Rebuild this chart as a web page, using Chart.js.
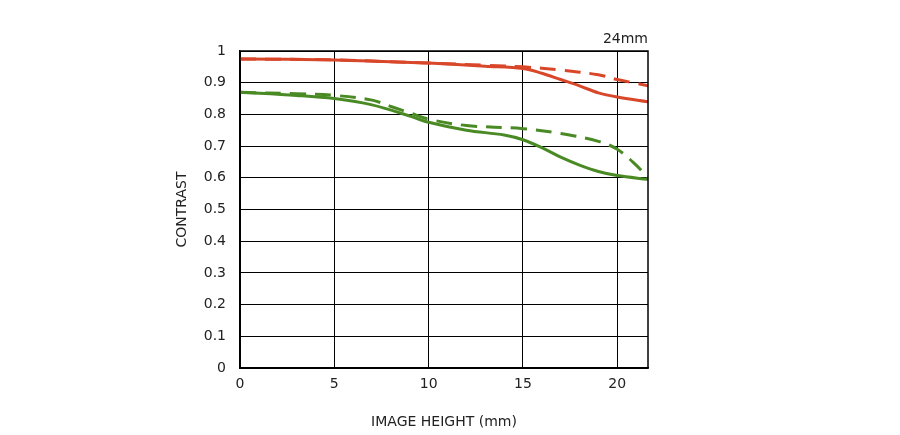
<!DOCTYPE html>
<html>
<head>
<meta charset="utf-8">
<script src="https://cdn.jsdelivr.net/npm/chart.js@4"></script>
<style>
html, body { margin: 0; padding: 0; background: #fff; }
#wrap { width: 900px; height: 435px; }
</style>
</head>
<body>
<div id="wrap"><canvas id="mtf"></canvas></div>
<script>
// Datos
const xMax = 21.63;
const redSolid = [[0,0.975],[5,0.972],[8,0.966],[10,0.962],[13,0.952],[15,0.945],[16,0.93],[17,0.91],[18,0.89],[19,0.868],[20,0.855],[21.63,0.84]];
const redDashed = [[0,0.975],[5,0.972],[8,0.966],[10,0.962],[13,0.955],[15,0.95],[17,0.94],[19,0.925],[20,0.91],[21,0.898],[21.63,0.89]];
const greenSolid = [[0,0.87],[3,0.86],[5,0.85],[7,0.83],[9,0.795],[10,0.775],[12,0.75],[14,0.735],[15,0.72],[16,0.695],[17,0.665],[18,0.64],[19,0.62],[20,0.607],[21.63,0.595]];
const greenDashed = [[0,0.87],[3,0.865],[5,0.86],[7,0.845],[8,0.825],[9,0.805],[10,0.785],[12,0.765],[15,0.755],[17,0.74],[19,0.715],[20,0.69],[21,0.64],[21.63,0.6]];

const red = '#d9472b';
const green = '#4a8a24';

function toPts(arr) {
    return arr.map(p => ({ x: p[0], y: p[1] }));
}

function ds(data, color, dashed) {
    return {
        data: toPts(data),
        borderColor: color,
        borderWidth: 3,
        borderDash: dashed ? [16, 9] : [],
        pointRadius: 0,
        tension: 0.35,
        fill: false
    };
}

// Marco y etiqueta de la focal
const framePlugin = {
    id: 'frame',
    afterDraw(chart) {
        const a = chart.chartArea;
        const ctx = chart.ctx;
        ctx.save();
        ctx.strokeStyle = '#000';
        ctx.lineWidth = 1.5;
        ctx.strokeRect(a.left, a.top, a.right - a.left, a.bottom - a.top);
        ctx.fillStyle = '#222';
        ctx.font = '14px "DejaVu Sans", sans-serif';
        ctx.textAlign = 'right';
        ctx.textBaseline = 'bottom';
        ctx.fillText('24mm', a.right, a.top - 5);
        ctx.restore();
    }
};

Chart.defaults.color = '#222';
Chart.defaults.font.family = '"DejaVu Sans", sans-serif';
Chart.defaults.font.size = 14;

new Chart(document.getElementById('mtf').getContext('2d'), {
    type: 'line',
    data: {
        datasets: [
            ds(redSolid, red, false),
            ds(redDashed, red, true),
            ds(greenSolid, green, false),
            ds(greenDashed, green, true)
        ]
    },
    options: {
        responsive: true,
        maintainAspectRatio: false,
        animation: false,
        layout: { padding: { left: 170, right: 252, top: 51, bottom: 0 } },
        plugins: { legend: { display: false }, tooltip: { enabled: false } },
        scales: {
            x: {
                type: 'linear',
                min: 0,
                max: xMax,
                afterFit(scale) { scale.height = 67; },
                afterBuildTicks(scale) { scale.ticks = [0, 5, 10, 15, 20].map(v => ({ value: v })); },
                grid: { color: '#000', lineWidth: 1, drawTicks: false },
                border: { color: '#000', width: 1.5 },
                ticks: { padding: 8 },
                title: { display: true, text: 'IMAGE HEIGHT (mm)', padding: { top: 4 } }
            },
            y: {
                min: 0,
                max: 1,
                afterFit(scale) { scale.width = 70; },
                grid: { color: '#000', lineWidth: 1, drawTicks: false },
                border: { color: '#000', width: 1.5 },
                ticks: {
                    stepSize: 0.1,
                    padding: 14,
                    callback: v => String(Math.round(v * 10) / 10)
                },
                title: { display: true, text: 'CONTRAST', padding: { bottom: 4 } }
            }
        }
    },
    plugins: [framePlugin]
});
</script>
</body>
</html>
